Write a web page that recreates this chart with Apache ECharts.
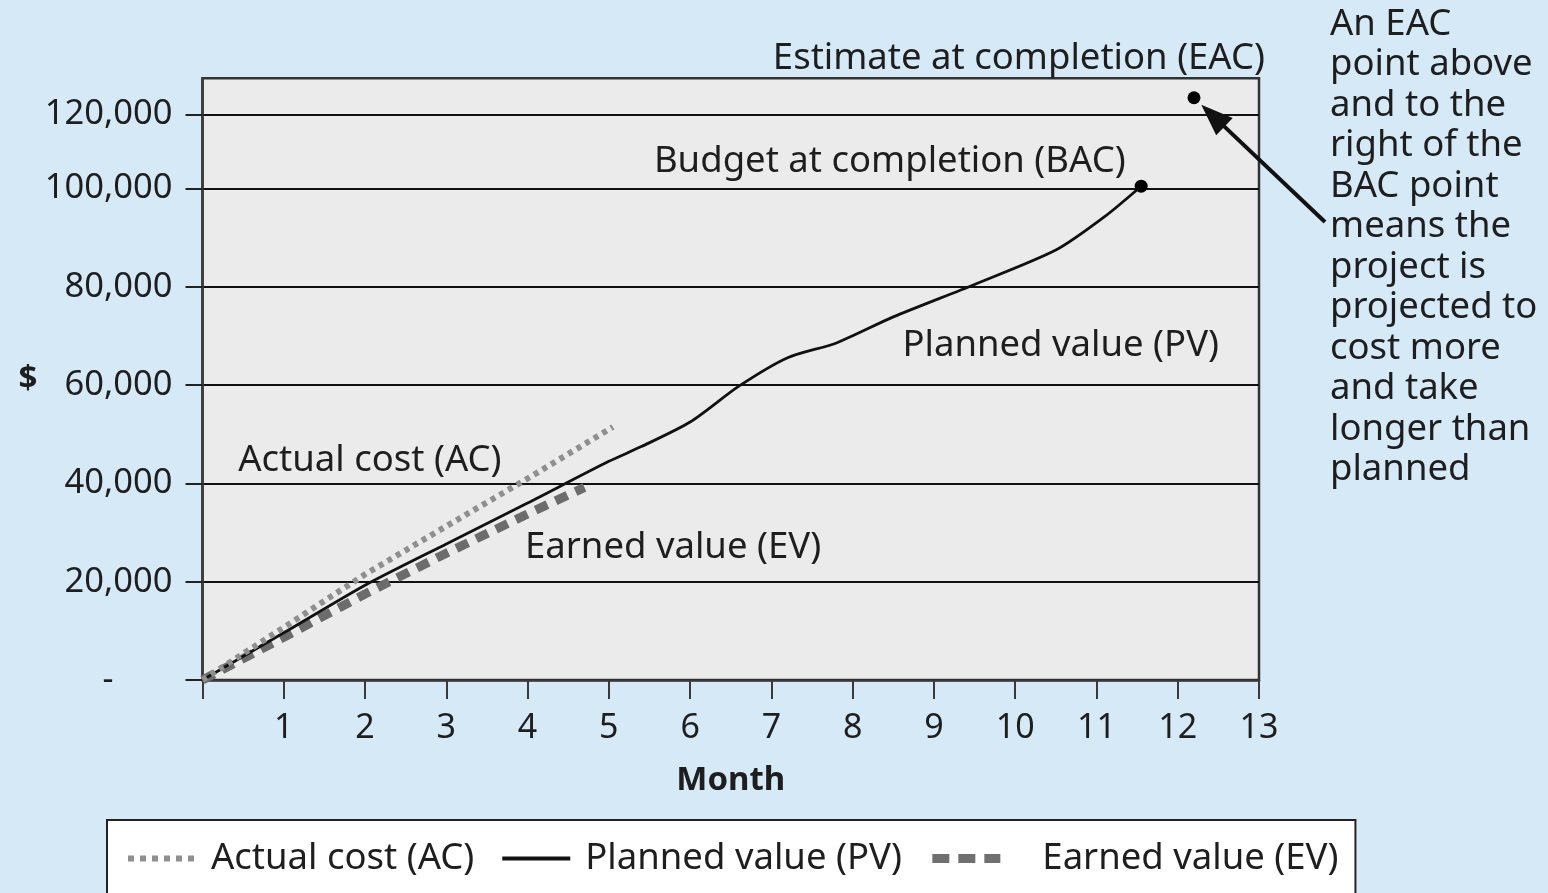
<!DOCTYPE html>
<html><head><meta charset="utf-8">
<script src="https://cdn.jsdelivr.net/npm/echarts@6/dist/echarts.min.js"></script>
<style>html,body{margin:0;padding:0;background:#d5e9f7;} #c{width:1548px;height:893px;}</style>
</head><body><div id="c"></div>
<script>
// ---- data ----
const pvMonths = [0, 1, 2, 3, 4, 5, 5.4, 6, 6.6, 7.2, 7.8, 8.5, 9.5, 10.5, 11.1, 11.55];
const pvValues = [0, 9600, 19300, 27700, 36000, 44500, 47500, 52500, 59800, 65600, 68600, 73900, 80500, 87500, 94300, 100500];
const acMonths = [0, 1, 2, 3, 4, 5.05];
const acValues = [0, 10700, 21500, 31300, 41000, 51500];
const evMonths = [0, 1, 2, 3, 4, 4.7];
const evValues = [0, 8700, 17500, 25800, 33800, 39200];
const bacPoint = [11.55, 100500];
const eacPoint = [12.2, 118500];
// y ticks as drawn (the top gridline sits closer than the others in the original)
const yTickValues = [0, 20000, 40000, 60000, 80000, 100000, 115100];
const yTickLabels = ['-', '20,000', '40,000', '60,000', '80,000', '100,000', '120,000'];
const xTickValues = [0, 1, 2, 3, 4, 5, 6, 7, 8, 9, 10, 11, 12, 13];
const xTickLabels = ['', '1', '2', '3', '4', '5', '6', '7', '8', '9', '10', '11', '12', '13'];
const seriesNames = ['Actual cost (AC)', 'Planned value (PV)', 'Earned value (EV)'];
const noteLines = ['An EAC', 'point above', 'and to the', 'right of the', 'BAC point', 'means the',
  'project is', 'projected to', 'cost more', 'and take', 'longer than', 'planned'];
// annotation anchors (data units)
const acLabelAt = [2.06, 44600];
const evLabelAt = [5.79, 26900];
const pvLabelAt = [10.56, 68000];

const zip = (xs, ys) => xs.map((x, i) => [x, ys[i]]);
const FONT = '"Noto Sans", "Open Sans", sans-serif';
const TXT = '#1e1e1e';
const ANN = 36.5;

const chart = echarts.init(document.getElementById('c'), null, {renderer: 'canvas'});

function annot(text, at) {
  return {
    symbol: 'circle', symbolSize: 1, silent: true,
    itemStyle: {color: 'transparent', borderWidth: 0},
    label: {show: true, position: 'inside', formatter: text, color: TXT, fontSize: ANN, fontFamily: FONT, opacity: 1},
    data: [{coord: at}]
  };
}
const hideSym = {color: 'transparent', borderColor: 'transparent', borderWidth: 0, opacity: 0};

const option = {
  backgroundColor: '#d5e9f7',
  animation: false,
  grid: {left: 202.5, right: 289, top: 78.3, bottom: 213, show: true,
    backgroundColor: '#ebebeb', borderColor: '#333', borderWidth: 2.5, outerBoundsMode: 'none'},
  xAxis: {
    type: 'value', min: 0, max: 13, interval: 1,
    name: 'Month', nameLocation: 'middle', nameGap: 84,
    nameTextStyle: {fontFamily: FONT, fontSize: 33, fontWeight: 'bold', color: TXT},
    axisLine: {show: true, lineStyle: {color: '#3a3a3a', width: 2.5}},
    axisTick: {show: true, length: 19, lineStyle: {color: '#3a3a3a', width: 2}, customValues: xTickValues},
    axisLabel: {customValues: xTickValues, margin: 31, fontFamily: FONT, fontSize: 34, color: TXT,
      formatter: v => xTickLabels[xTickValues.indexOf(v)] ?? ''},
    splitLine: {show: false}
  },
  yAxis: {
    type: 'value', min: 0, max: 122460,
    name: '$', nameLocation: 'middle', nameGap: 165, nameRotate: 0,
    nameTextStyle: {fontFamily: FONT, fontSize: 33, fontWeight: 'bold', color: TXT, padding: [20, 0, 0, 0]},
    axisLine: {show: true, lineStyle: {color: '#3a3a3a', width: 2.5}},
    axisTick: {show: true, length: 17, lineStyle: {color: '#222', width: 2}, customValues: yTickValues},
    axisLabel: {customValues: yTickValues, margin: 30, fontFamily: FONT, fontSize: 34.5, color: TXT,
      formatter: v => {
        const i = yTickValues.indexOf(v);
        if (i === 0) return '{dash|' + yTickLabels[0] + '}';
        return i >= 0 ? yTickLabels[i] : '';
      },
      rich: {dash: {width: 70, align: 'left', fontFamily: FONT, fontSize: 34, color: TXT}}
    },
    splitLine: {show: true, lineStyle: {color: '#111', width: 2}}
  },
  legend: {
    left: 107, top: 820, orient: 'horizontal',
    padding: [20, 17, 40, 18], itemGap: 26, itemWidth: 68, itemHeight: 20,
    backgroundColor: '#fff', borderColor: '#222', borderWidth: 2,
    itemStyle: hideSym,
    textStyle: {fontFamily: FONT, fontSize: ANN, color: TXT, padding: [0, 0, 0, 10]},
    data: [
      {name: seriesNames[0], itemStyle: hideSym, lineStyle: {color: '#8f8f8f', width: 6, type: [6, 6], cap: 'butt'}},
      {name: seriesNames[1], itemStyle: hideSym, lineStyle: {color: '#111', width: 4, type: 'solid'}},
      {name: seriesNames[2], itemStyle: hideSym, lineStyle: {color: '#707070', width: 9, type: [17, 9], cap: 'butt'},
        textStyle: {fontFamily: FONT, fontSize: ANN, color: TXT, padding: [0, 0, 0, 37]}}
    ]
  },
  series: [
    {name: seriesNames[0], type: 'line', data: zip(acMonths, acValues), symbol: 'none', z: 4,
      lineStyle: {color: '#8f8f8f', width: 6, type: [5, 5], cap: 'butt'},
      itemStyle: {color: '#8f8f8f'},
      markPoint: annot('Actual cost (AC)', acLabelAt)},
    {name: seriesNames[1], type: 'line', data: zip(pvMonths, pvValues), symbol: 'none', smooth: 0.25, z: 3,
      lineStyle: {color: '#111', width: 2.8},
      itemStyle: {color: '#111'},
      markPoint: annot('Planned value (PV)', pvLabelAt)},
    {name: seriesNames[2], type: 'line', data: zip(evMonths, evValues), symbol: 'none', z: 2,
      lineStyle: {color: '#6c6c6c', width: 9, type: [13, 9], cap: 'butt'},
      itemStyle: {color: '#6c6c6c'},
      markPoint: annot('Earned value (EV)', evLabelAt)},
    {name: 'BAC', type: 'scatter', data: [bacPoint], symbol: 'circle', symbolSize: 13, z: 6,
      itemStyle: {color: '#000', opacity: 1},
      label: {show: true, position: 'left', formatter: 'Budget at completion (BAC)', align: 'right',
        offset: [-4, -25], fontFamily: FONT, fontSize: ANN, color: TXT}},
    {name: 'EAC', type: 'scatter', data: [eacPoint], symbol: 'circle', symbolSize: 13, z: 6,
      itemStyle: {color: '#000', opacity: 1},
      label: {show: true, position: 'top', formatter: 'Estimate at completion (EAC)', align: 'right',
        offset: [71, -9], fontFamily: FONT, fontSize: ANN, color: TXT}}
  ]
};
chart.setOption(option);

// annotation text and arrow pointing at the EAC point
const p = chart.convertToPixel({gridIndex: 0}, eacPoint);
const tail = [1325, 222];
const dx = p[0] - tail[0], dy = p[1] - tail[1];
const len = Math.hypot(dx, dy), ux = dx / len, uy = dy / len;
const tip = [p[0] - ux * 10, p[1] - uy * 10];
const headLen = 32, headW = 12;
const base = [tip[0] - ux * headLen, tip[1] - uy * headLen];
const nx = -uy, ny = ux;
chart.setOption({
  graphic: [
    {type: 'text', left: 1330, top: 4, z: 10,
      style: {text: noteLines.join('\n'), font: ANN + 'px ' + FONT, fill: TXT, lineHeight: 40.5}},
    {type: 'line', z: 10, shape: {x1: tail[0], y1: tail[1], x2: base[0] + ux * 4, y2: base[1] + uy * 4},
      style: {stroke: '#111', lineWidth: 4}},
    {type: 'polygon', z: 10, shape: {points: [tip,
      [base[0] + nx * headW, base[1] + ny * headW], [base[0] - nx * headW, base[1] - ny * headW]]},
      style: {fill: '#111'}}
  ]
});
</script>
</body></html>
